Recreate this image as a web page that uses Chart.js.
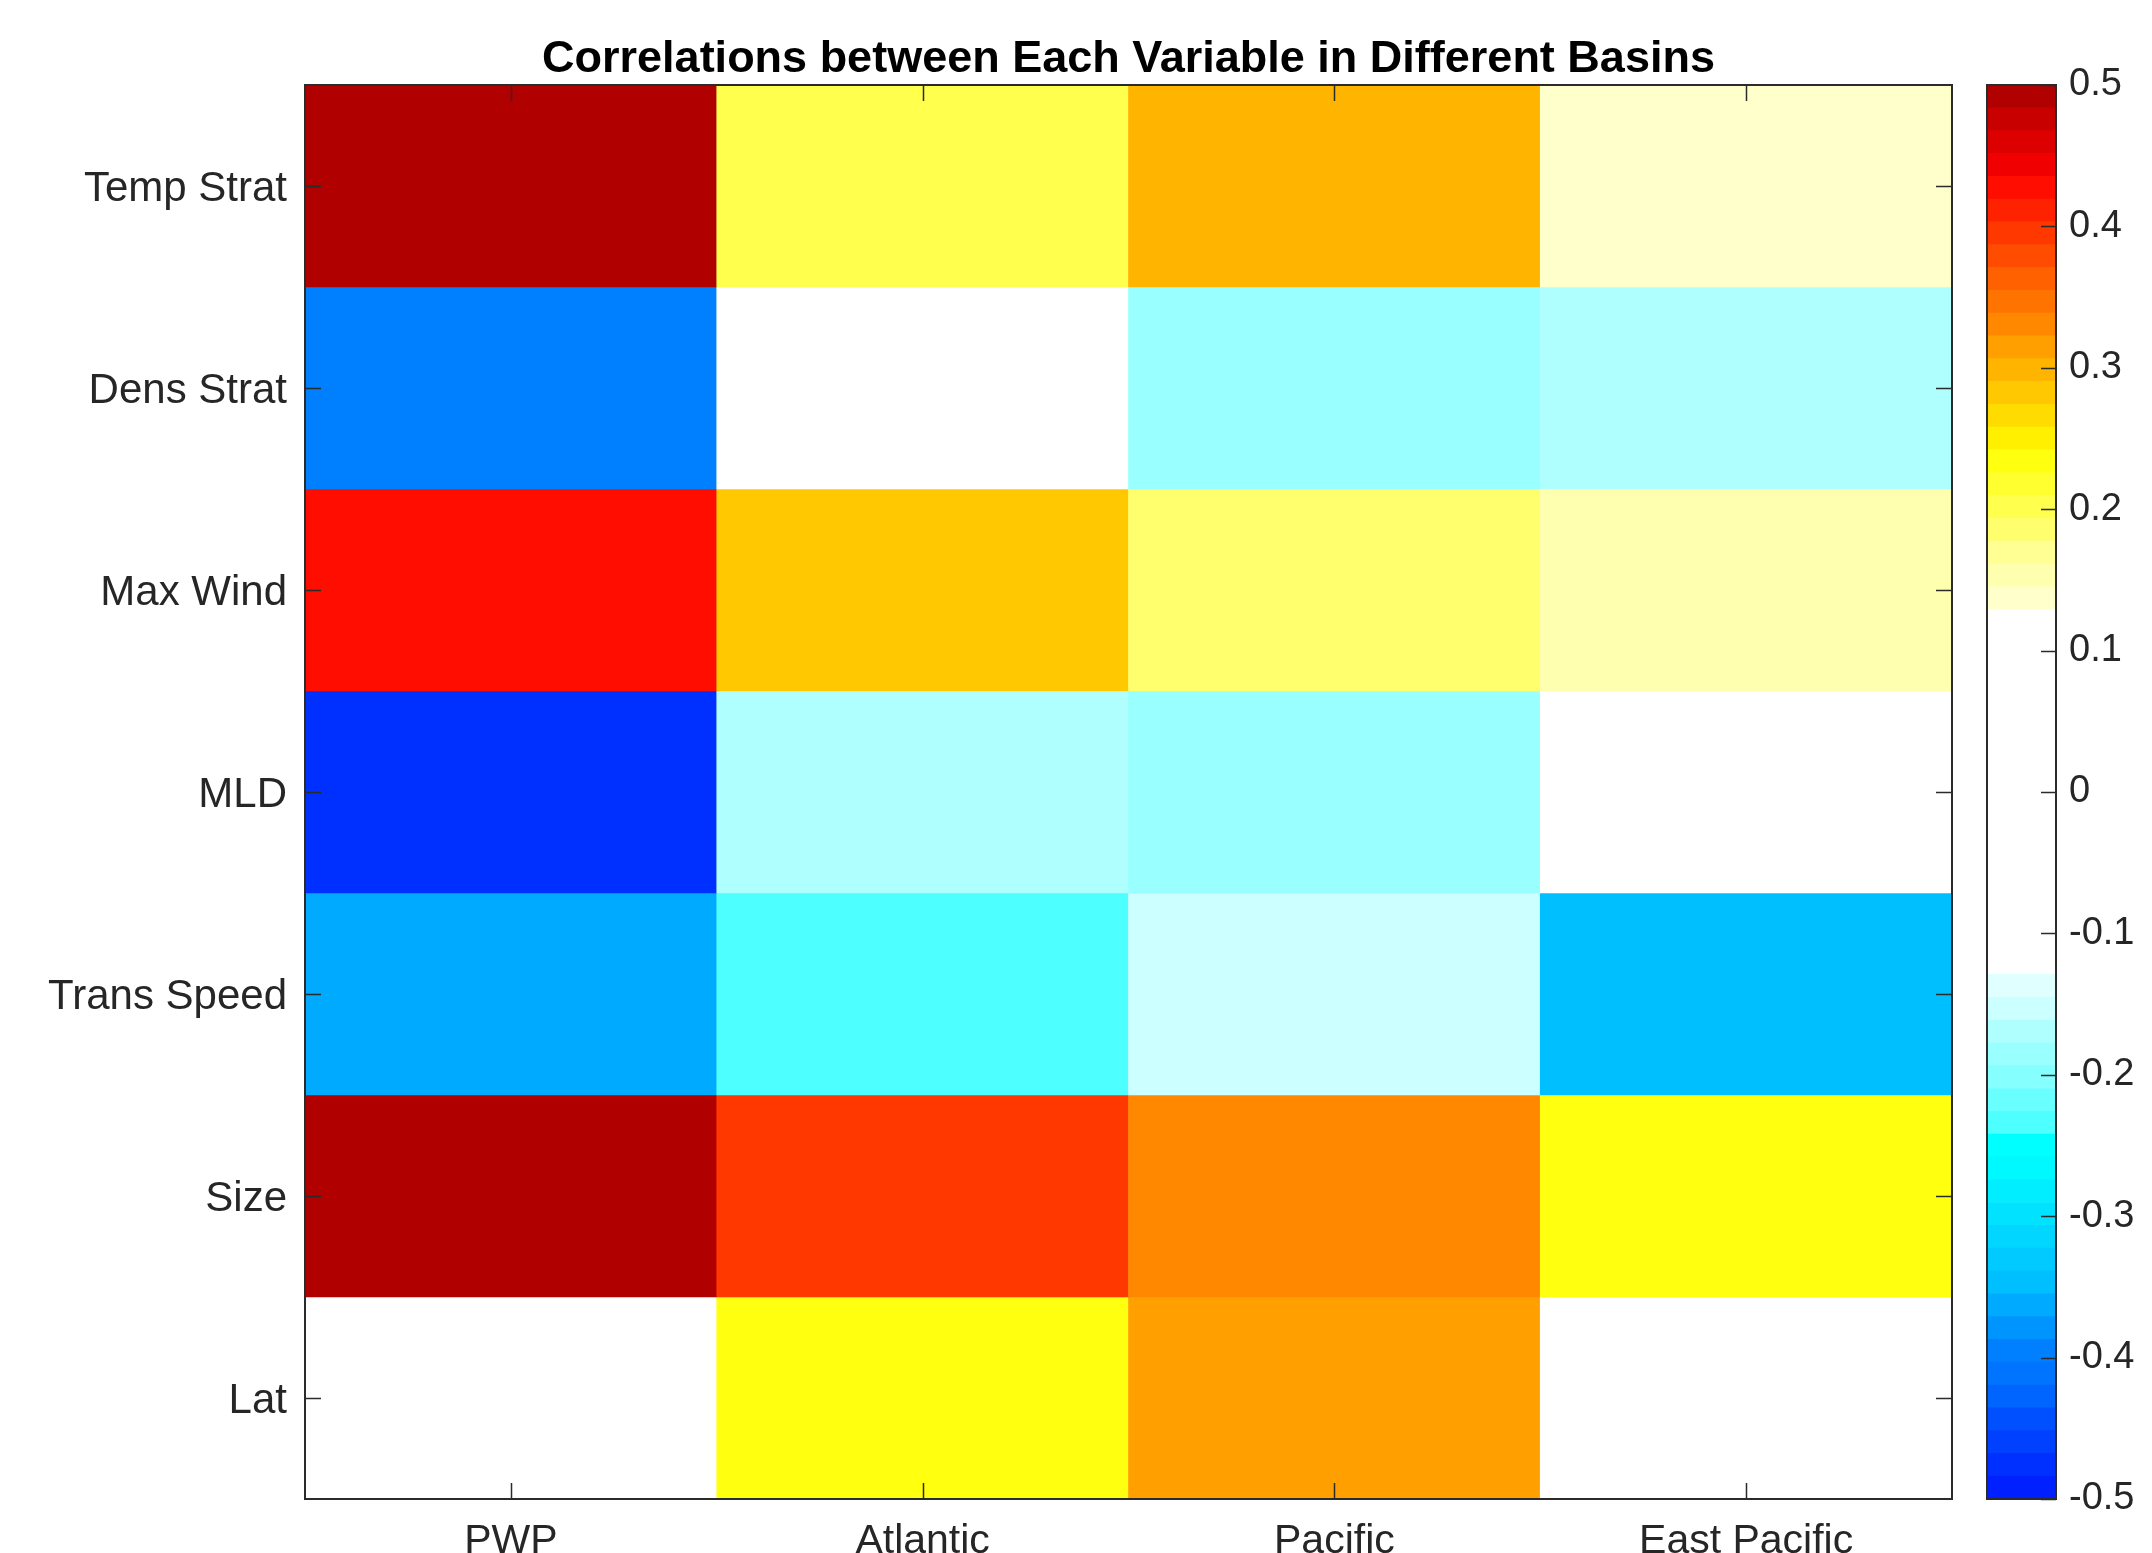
<!DOCTYPE html>
<html>
<head>
<meta charset="utf-8">
<script src="https://cdn.jsdelivr.net/npm/chart.js@4.4.1/dist/chart.umd.min.js"></script>
<style>
  html, body { margin: 0; padding: 0; background: #ffffff; overflow: hidden; }
  #wrap { position: relative; width: 2152px; height: 1553px; }
  #main { position: absolute; left: 0; top: 0; }
  #cbar { position: absolute; left: 1900px; top: 0; }
</style>
</head>
<body>
<div id="wrap">
  <canvas id="main" width="2152" height="1553"></canvas>
  <canvas id="cbar" width="252" height="1553"></canvas>
</div>
<script>
// ---- data ----
const basins = ['PWP', 'Atlantic', 'Pacific', 'East Pacific'];
const variables = ['Temp Strat', 'Dens Strat', 'Max Wind', 'MLD', 'Trans Speed', 'Size', 'Lat'];
const tempStrat  = [0.50, 0.20, 0.30, 0.14];
const densStrat  = [-0.40, 0.05, -0.185, -0.17];
const maxWind    = [0.43, 0.28, 0.185, 0.15];
const mld        = [-0.475, -0.17, -0.185, -0.03];
const transSpeed = [-0.36, -0.235, -0.155, -0.345];
const sizeCorr   = [0.50, 0.395, 0.33, 0.235];
const lat        = [0.08, 0.235, 0.315, 0.01];
const rows = [tempStrat, densStrat, maxWind, mld, transSpeed, sizeCorr, lat];
const colorbarTicks = [-0.5, -0.4, -0.3, -0.2, -0.1, 0, 0.1, 0.2, 0.3, 0.4, 0.5];
const cMin = -0.5, cMax = 0.5;
const titleText = 'Correlations between Each Variable in Different Basins';

// ---- colormap (62 discrete levels, bottom to top) ----
const colormap = [
  '#0020FF','#0030FF','#0040FF','#0050FF','#0064FF','#0074FF','#0080FF','#0094FF',
  '#00AAFF','#00BFFF','#00CAFF','#00D6FF','#00E2FF','#00EEFF','#00F8FF','#00FFFF',
  '#4DFFFF','#6AFFFF','#86FFFF','#99FFFF','#B0FFFF','#CCFFFF','#E0FFFF',
  '#FFFFFF','#FFFFFF','#FFFFFF','#FFFFFF','#FFFFFF','#FFFFFF','#FFFFFF','#FFFFFF',
  '#FFFFFF','#FFFFFF','#FFFFFF','#FFFFFF','#FFFFFF','#FFFFFF','#FFFFFF','#FFFFFF',
  '#FFFFCC','#FFFFB0','#FFFF94','#FFFF6E','#FFFF4D','#FFFF30','#FFFF10','#FFF000',
  '#FFDC00','#FFC800','#FFB400','#FFA000','#FF8800','#FF7400','#FF6000','#FF4C00',
  '#FF3800','#FF2200','#FF0D00','#F00000','#DC0000','#C80000','#B00000'
];
const N = colormap.length;
function colorFor(v) {
  let i = Math.floor((v - cMin) / (cMax - cMin) * N);
  i = Math.max(0, Math.min(N - 1, i));
  return colormap[i];
}

const FONT = "'Liberation Sans', Arial, Helvetica, sans-serif";
const TXT = '#262626';
const AX = '#2b2b2b';

// ---- main heatmap ----
const mainDatasets = rows.map((vals, r) => ({
  label: variables[r],
  data: vals.map(() => [r + 0.5, r + 1.5]),
  backgroundColor: vals.map(colorFor),
  borderWidth: 0,
  grouped: false,
  barPercentage: 1,
  categoryPercentage: 1
}));

const boxTicks = {
  id: 'boxTicks',
  afterDatasetsDraw(chart) {
    const { ctx, chartArea: a, scales: { x, y } } = chart;
    const L = 16;
    ctx.save();
    ctx.strokeStyle = AX;
    ctx.lineWidth = 1.5;
    ctx.beginPath();
    basins.forEach((b, i) => {
      const px = Math.round(x.getPixelForValue(i)) + 0.5;
      ctx.moveTo(px, a.bottom); ctx.lineTo(px, a.bottom - L);
      ctx.moveTo(px, a.top); ctx.lineTo(px, a.top + L);
    });
    variables.forEach((v, r) => {
      const py = Math.round(y.getPixelForValue(r + 1)) + 0.5;
      ctx.moveTo(a.left, py); ctx.lineTo(a.left + L, py);
      ctx.moveTo(a.right, py); ctx.lineTo(a.right - L, py);
    });
    ctx.stroke();
    ctx.lineWidth = 2;
    ctx.strokeRect(a.left, a.top, a.right - a.left, a.bottom - a.top);
    // title centred over the axes
    ctx.fillStyle = '#000000';
    ctx.font = "bold 45px " + FONT;
    ctx.textAlign = 'center';
    ctx.textBaseline = 'middle';
    ctx.fillText(titleText, (a.left + a.right) / 2, 60);
    ctx.restore();
  }
};

new Chart(document.getElementById('main'), {
  type: 'bar',
  data: { labels: basins, datasets: mainDatasets },
  options: {
    responsive: false,
    animation: false,
    devicePixelRatio: 1,
    layout: { padding: { left: 0, right: 200, top: 85, bottom: 0 } },
    plugins: {
      legend: { display: false },
      tooltip: { enabled: false },
      title: { display: false }
    },
    scales: {
      x: {
        type: 'category',
        grid: { display: false, drawTicks: false },
        border: { display: false },
        ticks: { color: TXT, font: { family: FONT, size: 41 }, padding: 18, maxRotation: 0, autoSkip: false },
        afterFit: s => { s.height = 54; }
      },
      y: {
        type: 'linear',
        min: 0.5,
        max: variables.length + 0.5,
        reverse: true,
        grid: { display: false, drawTicks: false },
        border: { display: false },
        afterBuildTicks: s => { s.ticks = variables.map((v, r) => ({ value: r + 1 })); },
        ticks: {
          color: TXT,
          font: { family: FONT, size: 42 },
          padding: 18,
          labelOffset: 3,
          autoSkip: false,
          callback: v => variables[Math.round(v) - 1]
        },
        afterFit: s => { s.width = 305; }
      }
    }
  },
  plugins: [boxTicks]
});

// ---- colorbar ----
const cbDatasets = colormap.map((c, i) => ({
  data: [[cMin + (cMax - cMin) * i / N, cMin + (cMax - cMin) * (i + 1) / N]],
  backgroundColor: c,
  borderWidth: 0,
  grouped: false,
  barPercentage: 1,
  categoryPercentage: 1
}));

const cbTicks = {
  id: 'cbTicks',
  afterDatasetsDraw(chart) {
    const { ctx, chartArea: a, scales: { y } } = chart;
    ctx.save();
    ctx.strokeStyle = AX;
    ctx.lineWidth = 1.5;
    ctx.beginPath();
    colorbarTicks.forEach(v => {
      const py = Math.round(y.getPixelForValue(v)) + 0.5;
      ctx.moveTo(a.right, py); ctx.lineTo(a.right - 15, py);
    });
    ctx.stroke();
    ctx.lineWidth = 2;
    ctx.strokeRect(a.left, a.top, a.right - a.left, a.bottom - a.top);
    ctx.restore();
  }
};

new Chart(document.getElementById('cbar'), {
  type: 'bar',
  data: { labels: [''], datasets: cbDatasets },
  options: {
    responsive: false,
    animation: false,
    devicePixelRatio: 1,
    layout: { padding: { left: 87, right: 0, top: 85, bottom: 54 } },
    plugins: { legend: { display: false }, tooltip: { enabled: false }, title: { display: false } },
    scales: {
      x: { display: false },
      y: {
        type: 'linear',
        position: 'right',
        min: cMin,
        max: cMax,
        grid: { display: false, drawTicks: false },
        border: { display: false },
        afterBuildTicks: s => { s.ticks = colorbarTicks.map(v => ({ value: v })); },
        ticks: {
          color: TXT,
          font: { family: FONT, size: 38 },
          padding: 13,
          autoSkip: false,
          callback: v => String(Math.round(v * 10) / 10)
        },
        afterFit: s => { s.width = 96; }
      }
    }
  },
  plugins: [cbTicks]
});
</script>
</body>
</html>
